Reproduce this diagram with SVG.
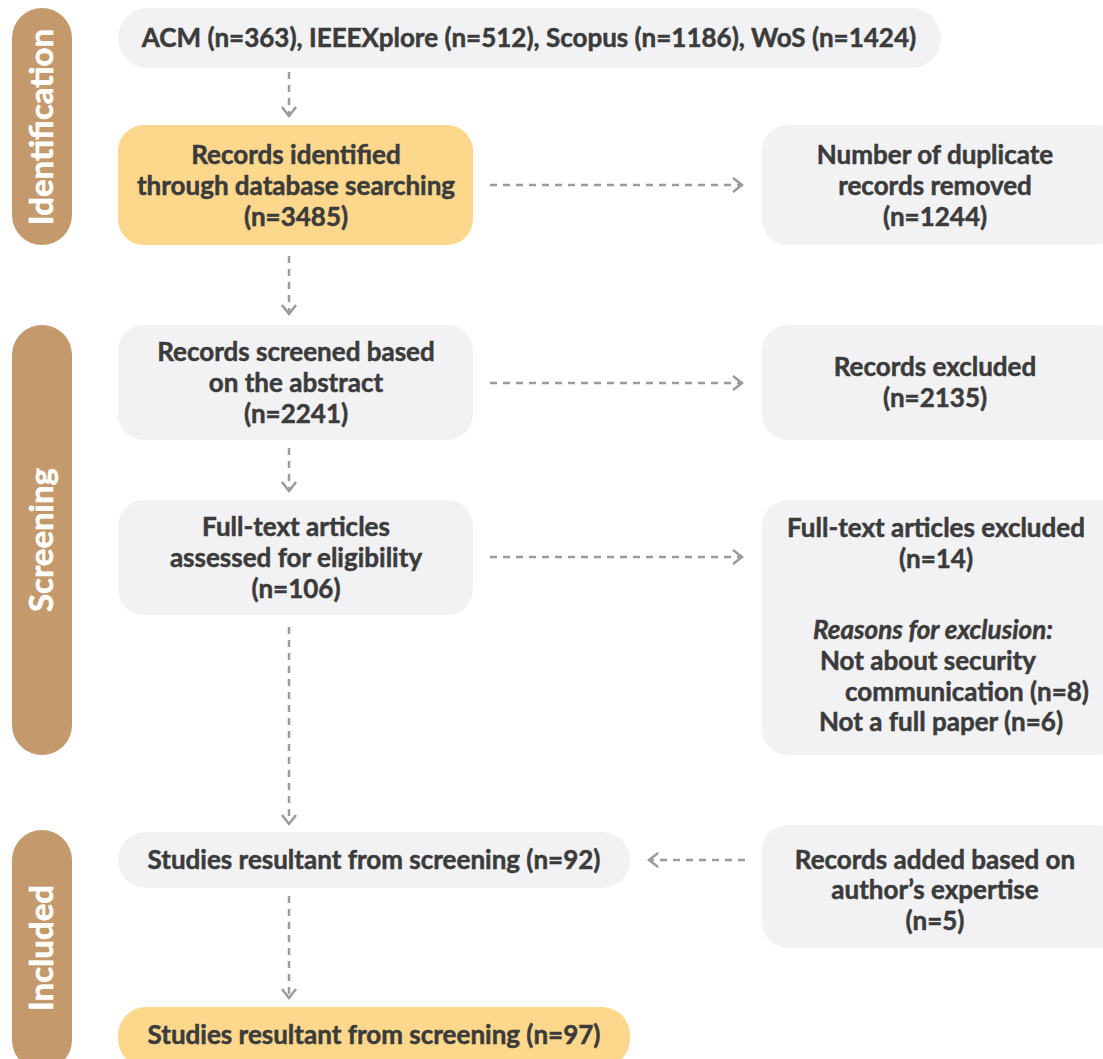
<svg xmlns="http://www.w3.org/2000/svg" width="1103" height="1059" viewBox="0 0 1103 1059">
<defs>
<style>
.side{fill:#c4996b}
.box{fill:#f2f2f4}
.hi{fill:#fdd88c}
.t{font-family:Lato,"Liberation Sans",sans-serif;font-weight:bold;font-size:26px;fill:#3b3b3b;stroke:#3b3b3b;stroke-width:0.5;text-anchor:middle}
.st{font-family:Lato,"Liberation Sans",sans-serif;font-weight:bold;font-size:33px;fill:#ffffff;stroke:#ffffff;stroke-width:0.6;text-anchor:middle}
.c{fill:none;stroke:#9b9b9d;stroke-width:2.5;stroke-dasharray:7 6}
</style>
<marker id="ah" viewBox="0 0 12 16" refX="10" refY="8" markerWidth="12" markerHeight="16" markerUnits="userSpaceOnUse" orient="auto">
<path d="M1,1 L10,8 L1,15" fill="none" stroke="#9b9b9d" stroke-width="2.5"/>
</marker>
</defs>
<rect width="1103" height="1059" fill="#ffffff"/>

<g id="sidebars">
<g id="side-identification"><rect class="side" x="12" y="8" width="60" height="237" rx="30"/><text class="st" transform="translate(53,127) rotate(-90)">Identification</text></g>
<g id="side-screening"><rect class="side" x="12" y="325" width="60" height="430" rx="30"/><text class="st" transform="translate(53,540) rotate(-90)">Screening</text></g>
<g id="side-included"><rect class="side" x="12" y="830" width="60" height="240" rx="30"/><text class="st" transform="translate(53,948) rotate(-90)">Included</text></g>
</g>

<g id="connectors">
<line class="c" x1="289" y1="72" x2="289" y2="116" marker-end="url(#ah)"/>
<line class="c" x1="289" y1="256" x2="289" y2="314" marker-end="url(#ah)"/>
<line class="c" x1="289" y1="448" x2="289" y2="491" marker-end="url(#ah)"/>
<line class="c" x1="289" y1="627" x2="289" y2="824" marker-end="url(#ah)"/>
<line class="c" x1="289" y1="896" x2="289" y2="998" marker-end="url(#ah)"/>
<line class="c" x1="490" y1="185" x2="742" y2="185" marker-end="url(#ah)"/>
<line class="c" x1="490" y1="383" x2="742" y2="383" marker-end="url(#ah)"/>
<line class="c" x1="490" y1="557" x2="742" y2="557" marker-end="url(#ah)"/>
<line class="c" x1="745" y1="860" x2="649" y2="860" marker-end="url(#ah)"/>
</g>

<g id="n-sources"><rect class="box" x="118" y="8" width="823" height="60" rx="30"/><text class="t" x="529" y="47">ACM (n=363), IEEEXplore (n=512), Scopus (n=1186), WoS (n=1424)</text></g>

<g id="n-identified"><rect class="hi" x="118" y="125" width="355" height="120" rx="26"/>
<text class="t" x="296" y="164">Records identified</text>
<text class="t" x="296" y="195">through database searching</text>
<text class="t" x="296" y="226">(n=3485)</text></g>

<g id="n-duplicates"><rect class="box" x="762" y="125" width="360" height="120" rx="26"/>
<text class="t" x="935" y="164">Number of duplicate</text>
<text class="t" x="935" y="195">records removed</text>
<text class="t" x="935" y="226">(n=1244)</text></g>

<g id="n-screened"><rect class="box" x="118" y="325" width="355" height="115" rx="26"/>
<text class="t" x="296" y="361">Records screened based</text>
<text class="t" x="296" y="392">on the abstract</text>
<text class="t" x="296" y="423">(n=2241)</text></g>

<g id="n-excluded"><rect class="box" x="762" y="325" width="360" height="115" rx="26"/>
<text class="t" x="935" y="376">Records excluded</text>
<text class="t" x="935" y="407">(n=2135)</text></g>

<g id="n-fulltext"><rect class="box" x="118" y="500" width="355" height="115" rx="26"/>
<text class="t" x="296" y="536">Full-text articles</text>
<text class="t" x="296" y="567">assessed for eligibility</text>
<text class="t" x="296" y="598">(n=106)</text></g>

<g id="n-ftexcluded"><rect class="box" x="762" y="500" width="360" height="255" rx="26"/>
<text class="t" x="936" y="537">Full-text articles excluded</text>
<text class="t" x="936" y="568">(n=14)</text>
<text class="t" x="933" y="639" font-style="italic">Reasons for exclusion:</text>
<text class="t" x="928" y="670">Not about security</text>
<text class="t" x="967" y="701">communication (n=8)</text>
<text class="t" x="941" y="731">Not a full paper (n=6)</text></g>

<g id="n-studies92"><rect class="box" x="118" y="832" width="512" height="56" rx="28"/><text class="t" x="374" y="869">Studies resultant from screening (n=92)</text></g>

<g id="n-added"><rect class="box" x="762" y="825" width="360" height="123" rx="26"/>
<text class="t" x="935" y="869">Records added based on</text>
<text class="t" x="935" y="899">author’s expertise</text>
<text class="t" x="935" y="930">(n=5)</text></g>

<g id="n-studies97"><rect class="hi" x="118" y="1007" width="512" height="60" rx="28"/><text class="t" x="374" y="1044">Studies resultant from screening (n=97)</text></g>
</svg>
